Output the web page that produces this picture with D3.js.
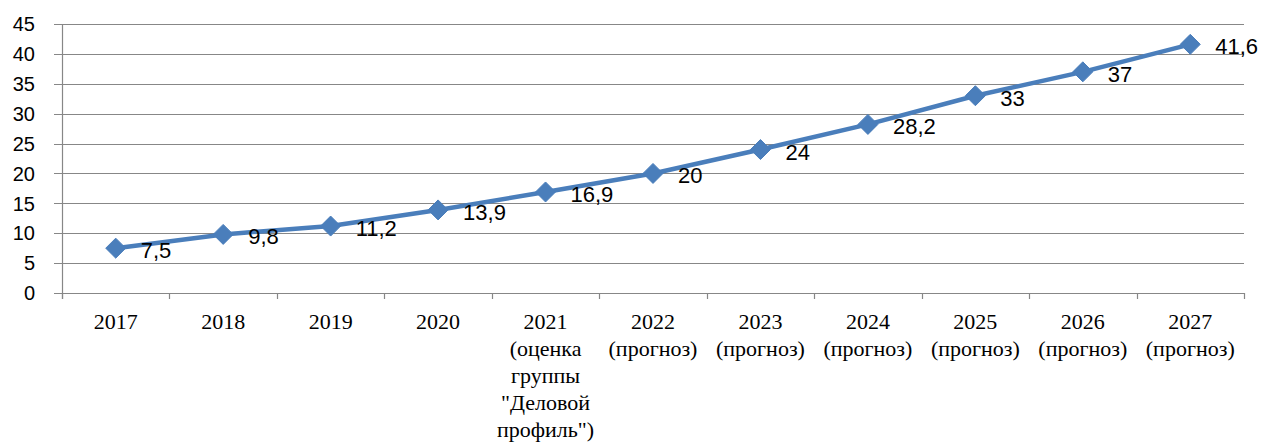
<!DOCTYPE html>
<html><head><meta charset="utf-8">
<script src="https://cdn.jsdelivr.net/npm/d3@7"></script>
<style>body{margin:0;background:#fff}svg{display:block}
.xl{font-family:'Liberation Serif','Tinos','Times New Roman','Times','DejaVu Serif','Noto Serif',serif;font-size:22px}
.sl{font-family:'Liberation Sans','DejaVu Sans',Arial,sans-serif}
</style>
</head><body>
<svg id="chart" width="1263" height="443"></svg>
<script>
const categories = [
  ["2017"],
  ["2018"],
  ["2019"],
  ["2020"],
  ["2021", "(оценка", "группы", "\"Деловой", "профиль\")"],
  ["2022", "(прогноз)"],
  ["2023", "(прогноз)"],
  ["2024", "(прогноз)"],
  ["2025", "(прогноз)"],
  ["2026", "(прогноз)"],
  ["2027", "(прогноз)"]
];
const values = [7.5, 9.8, 11.2, 13.9, 16.9, 20, 24, 28.2, 33, 37, 41.6];
const valueLabels = ["7,5", "9,8", "11,2", "13,9", "16,9", "20", "24", "28,2", "33", "37", "41,6"];
const yTicks = [0, 5, 10, 15, 20, 25, 30, 35, 40, 45];

(function () {
const svg = d3.select("#chart");
const pL = 62, pR = 1244, pT = 24, pB = 293;
const keys = categories.map(c => c[0]);
const x = d3.scaleBand().domain(keys).range([pL, pR]);
const y = d3.scaleLinear().domain([0, 45]).range([pB, pT]);
const grid = "#878787";

svg.append("g").selectAll("line").data(yTicks).join("line")
  .attr("x1", pL - 8).attr("x2", pR)
  .attr("y1", d => Math.round(y(d)) + 0.5).attr("y2", d => Math.round(y(d)) + 0.5)
  .attr("stroke", grid).attr("stroke-width", 1.2);

svg.append("line").attr("x1", pL + 0.5).attr("x2", pL + 0.5)
  .attr("y1", pT).attr("y2", pB + 6)
  .attr("stroke", grid).attr("stroke-width", 1.2);

svg.append("g").selectAll("text").data(yTicks).join("text")
  .attr("class", "sl")
  .attr("x", 35).attr("y", d => y(d))
  .attr("dy", "0.36em").attr("text-anchor", "end")
  .attr("font-size", 20)
  .attr("fill", "#000").text(d => d);

const bounds = keys.map(k => x(k)).concat([pR]);
svg.append("g").selectAll("line").data(bounds).join("line")
  .attr("x1", d => Math.round(d) + 0.5).attr("x2", d => Math.round(d) + 0.5)
  .attr("y1", pB).attr("y2", pB + 6)
  .attr("stroke", grid).attr("stroke-width", 1.2);

const xl = svg.append("g").selectAll("text").data(categories).join("text")
  .attr("class", "xl")
  .attr("text-anchor", "middle")
  .attr("fill", "#000");
xl.each(function (lines) {
  const cx = x(lines[0]) + x.bandwidth() / 2;
  d3.select(this).selectAll("tspan").data(lines).join("tspan")
    .attr("x", cx).attr("y", (d, i) => 329 + i * 27).text(d => d);
});

const pts = values.map((v, i) => [x(keys[i]) + x.bandwidth() / 2, y(v)]);
svg.append("path").attr("d", d3.line()(pts))
  .attr("fill", "none").attr("stroke", "#4A7EBB").attr("stroke-width", 4.5)
  .attr("stroke-linejoin", "round");

svg.append("g").selectAll("path").data(pts).join("path")
  .attr("d", d => `M${d[0]},${d[1]-10}L${d[0]+10},${d[1]}L${d[0]},${d[1]+10}L${d[0]-10},${d[1]}Z`)
  .attr("fill", "#4A7EBB").attr("stroke", "#4A7EBB").attr("stroke-width", 1);

svg.append("g").selectAll("text").data(pts).join("text")
  .attr("class", "sl")
  .attr("x", d => d[0] + 25).attr("y", d => d[1] + 10)
  .attr("font-size", 22)
  .attr("fill", "#000").text((d, i) => valueLabels[i]);
})();
</script>
</body></html>
